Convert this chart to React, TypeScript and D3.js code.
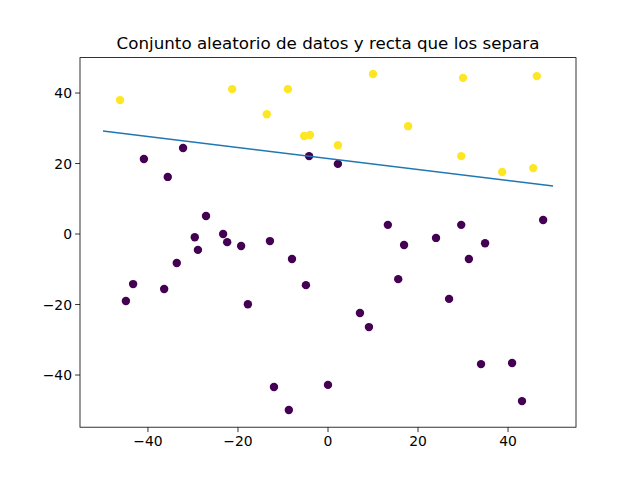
import React from "react";
import * as d3 from "d3";

const yellowX = [-46.2, -21.3, -8.9, -13.6, -5.3, -4.0, 2.2, 10.0, 17.8, 30.0, 29.6, 38.7, 45.6, 46.4];
const yellowY = [38.0, 41.1, 41.1, 34.0, 27.8, 28.1, 25.2, 45.4, 30.6, 44.3, 22.1, 17.6, 18.7, 44.8];
const purpleX = [-40.9, -32.2, -35.6, -27.1, -29.6, -28.9, -23.3, -22.4, -19.3, -33.6, -43.3, -44.9, -36.4, -17.8, -12.9, -8.0, -4.9, -4.2, 2.2, -12.0, -8.7, 0, 7.1, 9.1, 13.3, 16.9, 15.6, 24.0, 26.9, 29.6, 31.3, 34.9, 34.0, 40.9, 43.1, 47.8];
const purpleY = [21.3, 24.4, 16.2, 5.1, -0.9, -4.5, 0, -2.3, -3.4, -8.2, -14.2, -19.0, -15.6, -19.9, -2.0, -7.1, -14.5, 22.1, 19.9, -43.4, -49.9, -42.8, -22.4, -26.4, 2.6, -3.1, -12.8, -1.1, -18.4, 2.6, -7.1, -2.6, -36.9, -36.6, -47.4, 4.0];
const lineX = [-50, 50];
const lineY = [29.2, 13.6];
const xTicks = [-40, -20, 0, 20, 40];
const yTicks = [-40, -20, 0, 20, 40];

const L = 80, R = 576, T = 57.6, B = 427.2;

export default function App() {
  const x = d3.scaleLinear().domain([-55.1, 55.1]).range([L, R]);
  const y = d3.scaleLinear().domain([-54.8, 50.05]).range([B, T]);
  const line = d3.line<number>().x((d) => x(lineX[d])).y((d) => y(lineY[d]));
  const font = "DejaVu Sans";
  return (
    <svg width={640} height={480} style={{ position: "absolute", left: 0, top: 0, background: "#fff" }} fontFamily={font}>
      <rect width={640} height={480} fill="#fff" />
      {purpleX.map((v, i) => (
        <circle key={"p" + i} cx={x(v)} cy={y(purpleY[i])} r={4.2} fill="#440154" />
      ))}
      {yellowX.map((v, i) => (
        <circle key={"y" + i} cx={x(v)} cy={y(yellowY[i])} r={4.2} fill="#fde725" />
      ))}
      <path d={line([0, 1]) || ""} stroke="#1f77b4" strokeWidth={1.5} fill="none" />
      <rect x={L} y={T} width={R - L} height={B - T} fill="none" stroke="#000" strokeWidth={0.8} />
      {xTicks.map((t) => (
        <g key={"xt" + t}>
          <line x1={x(t)} x2={x(t)} y1={B} y2={B + 4.9} stroke="#000" strokeWidth={0.8} />
          <text x={x(t)} y={B + 19} textAnchor="middle" fontSize={13.9}>{t < 0 ? "\u2212" + Math.abs(t) : t}</text>
        </g>
      ))}
      {yTicks.map((t) => (
        <g key={"yt" + t}>
          <line x1={L - 4.9} x2={L} y1={y(t)} y2={y(t)} stroke="#000" strokeWidth={0.8} />
          <text x={L - 8} y={y(t) + 5} textAnchor="end" fontSize={13.9}>{t < 0 ? "\u2212" + Math.abs(t) : t}</text>
        </g>
      ))}
      <text x={(L + R) / 2} y={T - 9} textAnchor="middle" fontSize={16.7}>Conjunto aleatorio de datos y recta que los separa</text>
    </svg>
  );
}
